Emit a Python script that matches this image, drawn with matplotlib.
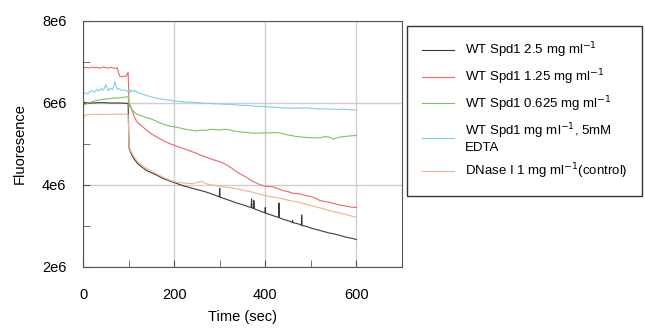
import numpy as np
import matplotlib

matplotlib.use("Agg")
import matplotlib.pyplot as plt
from matplotlib.ticker import MultipleLocator

plt.rcParams["font.family"] = ["Liberation Sans", "DejaVu Sans"]

# ---- data (fluorescence in units of 1e6) ----
t = [0, 5, 10, 15, 20, 25, 30, 35, 40, 45, 50, 55, 60, 65, 70, 75, 80, 85,
     90, 95, 99,
     101, 103, 105, 110, 115, 120,
     130, 140, 150, 160, 170, 180, 190, 200, 210, 220, 230, 240, 250, 260,
     270, 280, 290, 300, 310, 320, 330, 340, 350, 360, 370, 380, 390, 400,
     410, 420, 430, 440, 450, 460, 470, 480, 490, 500, 510, 520, 530, 540,
     550, 560, 570, 580, 590, 600]

red = [6.88, 6.86, 6.87, 6.85, 6.88, 6.86, 6.87, 6.85, 6.86, 6.88, 6.86,
       6.85, 6.87, 6.86, 6.84, 6.86, 6.66, 6.64, 6.65, 6.66, 6.75,
       6.00, 5.95, 5.90, 5.75, 5.60, 5.52,
       5.43, 5.33, 5.25, 5.18, 5.12, 5.06, 5.01, 4.97, 4.93, 4.89, 4.85,
       4.81, 4.77, 4.72, 4.68, 4.64, 4.60, 4.57, 4.52, 4.46, 4.38, 4.30,
       4.24, 4.18, 4.10, 4.05, 4.00, 3.97, 3.96, 3.95, 3.90, 3.86, 3.84,
       3.80, 3.79, 3.77, 3.74, 3.72, 3.68, 3.62, 3.60, 3.58, 3.55, 3.52,
       3.50, 3.48, 3.46, 3.45]

green = [5.95, 5.97, 5.99, 6.01, 6.03, 6.05, 6.06, 6.07, 6.08, 6.09, 6.10,
         6.10, 6.11, 6.12, 6.12, 6.12, 6.13, 6.13, 6.14, 6.15, 6.15,
         5.90, 5.95, 5.88, 5.80, 5.75, 5.72,
         5.68, 5.64, 5.61, 5.56, 5.51, 5.47, 5.44, 5.42, 5.40, 5.37, 5.35,
         5.33, 5.32, 5.34, 5.33, 5.36, 5.35, 5.34, 5.36, 5.35, 5.32, 5.30,
         5.29, 5.28, 5.27, 5.26, 5.27, 5.27, 5.27, 5.28, 5.27, 5.25, 5.22,
         5.20, 5.18, 5.17, 5.16, 5.15, 5.15, 5.15, 5.18, 5.17, 5.12, 5.16,
         5.18, 5.19, 5.20, 5.21]

cyan = [6.22, 6.25, 6.22, 6.28, 6.30, 6.26, 6.33, 6.29, 6.35, 6.31, 6.45,
        6.30, 6.36, 6.32, 6.52, 6.33, 6.35, 6.30, 6.32, 6.30, 6.28,
        6.30, 6.25, 6.32, 6.28, 6.30, 6.25,
        6.22, 6.18, 6.15, 6.12, 6.10, 6.08, 6.07, 6.05, 6.04, 6.03, 6.02,
        6.02, 6.01, 6.00, 5.99, 5.99, 5.98, 5.98, 5.97, 5.97, 5.96, 5.95,
        5.94, 5.94, 5.93, 5.92, 5.92, 5.91, 5.90, 5.90, 5.89, 5.88, 5.88,
        5.87, 5.88, 5.87, 5.88, 5.87, 5.86, 5.85, 5.86, 5.85, 5.85, 5.84,
        5.85, 5.84, 5.83, 5.83]

orange = [5.60, 5.72, 5.71, 5.72, 5.72, 5.73, 5.72, 5.72, 5.73, 5.72, 5.73,
          5.72, 5.72, 5.73, 5.72, 5.73, 5.73, 5.72, 5.73, 5.73, 5.72,
          4.95, 4.88, 4.82, 4.72, 4.64, 4.57,
          4.47, 4.40, 4.34, 4.28, 4.22, 4.17, 4.12, 4.08, 4.06, 4.05, 4.04,
          4.03, 4.06, 4.09, 4.03, 4.01, 3.99, 3.97, 3.95, 3.94, 3.92, 3.90,
          3.88, 3.85, 3.83, 3.80, 3.77, 3.74, 3.72, 3.70, 3.68, 3.66, 3.63,
          3.61, 3.59, 3.56, 3.53, 3.50, 3.47, 3.44, 3.41, 3.38, 3.35, 3.33,
          3.30, 3.27, 3.24, 3.21]

# black trace has its own sampling because of the narrow spikes
black_t = [0, 20, 40, 60, 80, 99,
           101, 103, 105, 110, 115, 120, 130, 140, 150, 160, 170, 180, 190,
           200, 210, 220, 230, 240, 250, 260, 270, 280, 290, 299, 300, 301,
           310, 320, 330, 340, 350, 360, 369, 370, 371, 374, 375, 376, 380,
           390, 399, 400, 401, 410, 420, 429, 430, 431, 440, 450, 459, 460,
           461, 470, 479, 480, 481, 490, 500, 510, 520, 530, 540, 550, 560,
           570, 580, 590, 600]
black = [6.01, 6.00, 6.01, 6.00, 6.00, 5.99,
         4.90, 4.85, 4.78, 4.67, 4.59, 4.52, 4.43, 4.35, 4.30, 4.25, 4.19,
         4.14, 4.10, 4.06, 4.02, 3.98, 3.95, 3.92, 3.89, 3.86, 3.83, 3.79,
         3.75, 3.71, 3.92, 3.70, 3.67, 3.63, 3.59, 3.55, 3.52, 3.48, 3.45,
         3.66, 3.44, 3.43, 3.62, 3.42, 3.40, 3.36, 3.32, 3.45, 3.31, 3.28,
         3.24, 3.21, 3.56, 3.20, 3.16, 3.13, 3.09, 3.14, 3.08, 3.06, 3.02,
         3.27, 3.01, 2.99, 2.95, 2.92, 2.89, 2.86, 2.83, 2.81, 2.78, 2.75,
         2.72, 2.70, 2.67]

labels = [r"WT Spd1 2.5 mg ml$^{\rm{-1}}$",
          r"WT Spd1 1.25 mg ml$^{\rm{-1}}$",
          r"WT Spd1 0.625 mg ml$^{\rm{-1}}$",
          "WT Spd1 mg ml$^{\\rm{-1}}$, 5mM\nEDTA",
          r"DNase I 1 mg ml$^{\rm{-1}}$(control)"]
colors = ["#3c3c3c", "#e8686a", "#7cc35c", "#7ccfe2", "#f6b088"]

fig = plt.figure(figsize=(6.45, 3.28), dpi=100)
ax = fig.add_axes([0.1287, 0.186, 0.4945, 0.75])

series = [(black_t, black), (t, red), (t, green), (t, cyan), (t, orange)]
handles = []
for (x, y), c, lab in zip(series, colors, labels):
    h, = ax.plot(x, np.array(y) * 1e6, color=c, lw=0.8, label=lab)
    handles.append(h)

ax.set_xlim(0, 700)
ax.set_ylim(2e6, 8e6)
ax.set_xticks([0, 200, 400, 600])
ax.set_yticks([2e6, 4e6, 6e6, 8e6])
ax.set_yticklabels(["2e6", "4e6", "6e6", "8e6"])
ax.xaxis.set_minor_locator(MultipleLocator(100))
ax.yaxis.set_minor_locator(MultipleLocator(1e6))
ax.tick_params(which="both", direction="in", length=5, color="#555555",
               labelsize=10.5)
ax.tick_params(axis="x", pad=15)
ax.tick_params(axis="y", pad=12)
ax.grid(True, which="major", color="#cfcfcf", lw=1.0)
for s in ax.spines.values():
    s.set_color("#555555")
ax.set_xlabel("Time (sec)", fontsize=10.5, labelpad=6)
ax.set_ylabel("Fluoresence", fontsize=10.5, labelpad=11)

leg = fig.legend(handles=handles, loc="upper left",
                 bbox_to_anchor=(0.631, 0.921), fontsize=9.5, frameon=True,
                 fancybox=False, edgecolor="#333333", framealpha=1,
                 handlelength=2.5, handletextpad=0.8, labelspacing=0.55,
                 borderpad=1.1, borderaxespad=0)
leg.get_frame().set_linewidth(1.0)

fig.savefig("out.png", dpi=100)
